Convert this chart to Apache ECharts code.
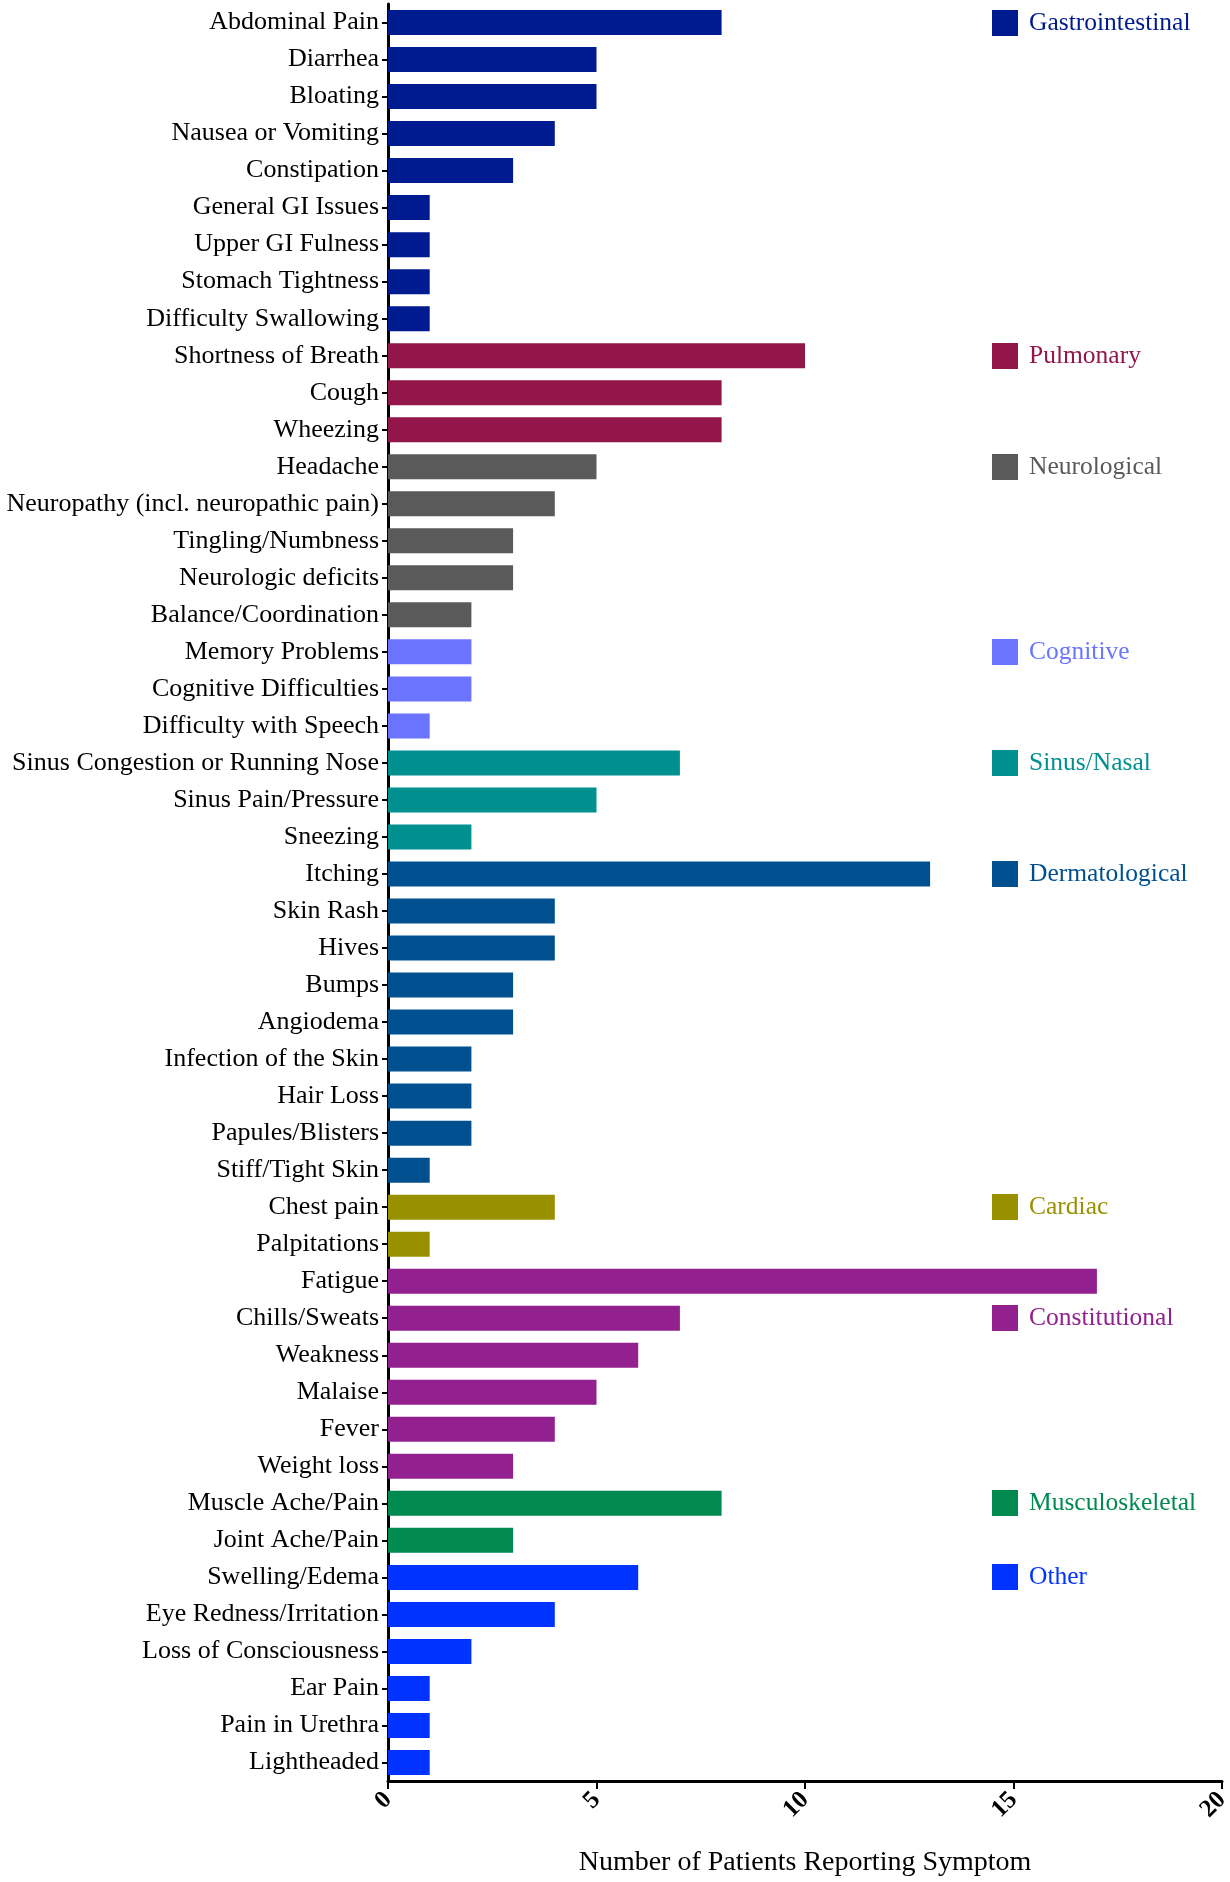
<!DOCTYPE html>
<html>
<head>
<meta charset="utf-8">
<script src="https://cdn.jsdelivr.net/npm/echarts@6/dist/echarts.min.js"></script>
<style>html,body{margin:0;padding:0;background:#fff;}#chart{width:1230px;height:1882px;}</style>
</head>
<body>
<div id="chart"></div>
<script>
const groupNames = ['Gastrointestinal','Pulmonary','Neurological','Cognitive','Sinus/Nasal','Dermatological','Cardiac','Constitutional','Musculoskeletal','Other'];
const groupColors = ['#001a90','#92164a','#5a5a5a','#6b74ff','#009090','#00508f','#999000','#92208f','#008a50','#0033ff'];

const gastroSymptoms = ['Abdominal Pain','Diarrhea','Bloating','Nausea or Vomiting','Constipation','General GI Issues','Upper GI Fulness','Stomach Tightness','Difficulty Swallowing'];
const gastroValues = [8,5,5,4,3,1,1,1,1];
const pulmonarySymptoms = ['Shortness of Breath','Cough','Wheezing'];
const pulmonaryValues = [10,8,8];
const neuroSymptoms = ['Headache','Neuropathy (incl. neuropathic pain)','Tingling/Numbness','Neurologic deficits','Balance/Coordination'];
const neuroValues = [5,4,3,3,2];
const cognitiveSymptoms = ['Memory Problems','Cognitive Difficulties','Difficulty with Speech'];
const cognitiveValues = [2,2,1];
const sinusSymptoms = ['Sinus Congestion or Running Nose','Sinus Pain/Pressure','Sneezing'];
const sinusValues = [7,5,2];
const dermSymptoms = ['Itching','Skin Rash','Hives','Bumps','Angiodema','Infection of the Skin','Hair Loss','Papules/Blisters','Stiff/Tight Skin'];
const dermValues = [13,4,4,3,3,2,2,2,1];
const cardiacSymptoms = ['Chest pain','Palpitations'];
const cardiacValues = [4,1];
const constitutionalSymptoms = ['Fatigue','Chills/Sweats','Weakness','Malaise','Fever','Weight loss'];
const constitutionalValues = [17,7,6,5,4,3];
const muscoSymptoms = ['Muscle Ache/Pain','Joint Ache/Pain'];
const muscoValues = [8,3];
const otherSymptoms = ['Swelling/Edema','Eye Redness/Irritation','Loss of Consciousness','Ear Pain','Pain in Urethra','Lightheaded'];
const otherValues = [6,4,2,1,1,1];

const xTicks = [0,5,10,15,20];
// legend row placement (row offset within group where the legend entry sits)
const legendRowOffset = [0,0,0,0,0,0,0,1,0,0];

const groupSymptoms = [gastroSymptoms,pulmonarySymptoms,neuroSymptoms,cognitiveSymptoms,sinusSymptoms,dermSymptoms,cardiacSymptoms,constitutionalSymptoms,muscoSymptoms,otherSymptoms];
const groupValues = [gastroValues,pulmonaryValues,neuroValues,cognitiveValues,sinusValues,dermValues,cardiacValues,constitutionalValues,muscoValues,otherValues];

const categories = [].concat(...groupSymptoms);
const N = categories.length;

const FONT = '"Liberation Serif","Times New Roman",serif';
const gridTop = 4, gridBottom = 101, chartH = 1882;
const band = (chartH - gridTop - gridBottom) / N;

const series = [];
const legends = [];
let start = 0;
groupNames.forEach((name, g) => {
  const data = new Array(N).fill('-');
  groupValues[g].forEach((v, i) => { data[start + i] = v; });
  series.push({
    name: name, type: 'bar', stack: 'all', data: data,
    barWidth: 25,
    itemStyle: { color: groupColors[g] },
    emphasis: { disabled: true }
  });
  const row = start + legendRowOffset[g];
  legends.push({
    data: [name], left: 992, top: Math.round(gridTop + band * (row + 0.5) - 13),
    icon: 'rect', itemWidth: 26, itemHeight: 26, selectedMode: false,
    padding: 0,
    textStyle: { color: groupColors[g], fontSize: 25.5, fontFamily: FONT, padding: [0,0,0,6] }
  });
  start += groupSymptoms[g].length;
});

const chart = echarts.init(document.getElementById('chart'));
chart.setOption({
  animation: false,
  backgroundColor: '#fff',
  legend: legends,
  grid: { left: 388, right: 8, top: gridTop, bottom: gridBottom, containLabel: false, outerBoundsMode: 'none' },
  xAxis: {
    type: 'value', min: xTicks[0], max: xTicks[xTicks.length-1], interval: 5,
    splitLine: { show: false },
    axisLine: { show: true, lineStyle: { color: '#000', width: 3 } },
    axisTick: { show: true, length: 8, lineStyle: { color: '#000', width: 2 } },
    axisLabel: { rotate: 45, fontWeight: 'bold', fontSize: 25, color: '#000', fontFamily: FONT, margin: 15 },
    name: 'Number of Patients Reporting Symptom', nameLocation: 'middle', nameGap: 68,
    nameTextStyle: { fontSize: 28, color: '#000', fontFamily: FONT }
  },
  yAxis: {
    type: 'category', data: categories, inverse: true,
    axisLine: { show: true, lineStyle: { color: '#000', width: 3 } },
    axisTick: { show: true, length: 6, alignWithLabel: true, lineStyle: { color: '#000', width: 2 } },
    axisLabel: { fontSize: 26, color: '#000', fontFamily: FONT, margin: 9, interval: 0 }
  },
  series: series
});
</script>
</body>
</html>
